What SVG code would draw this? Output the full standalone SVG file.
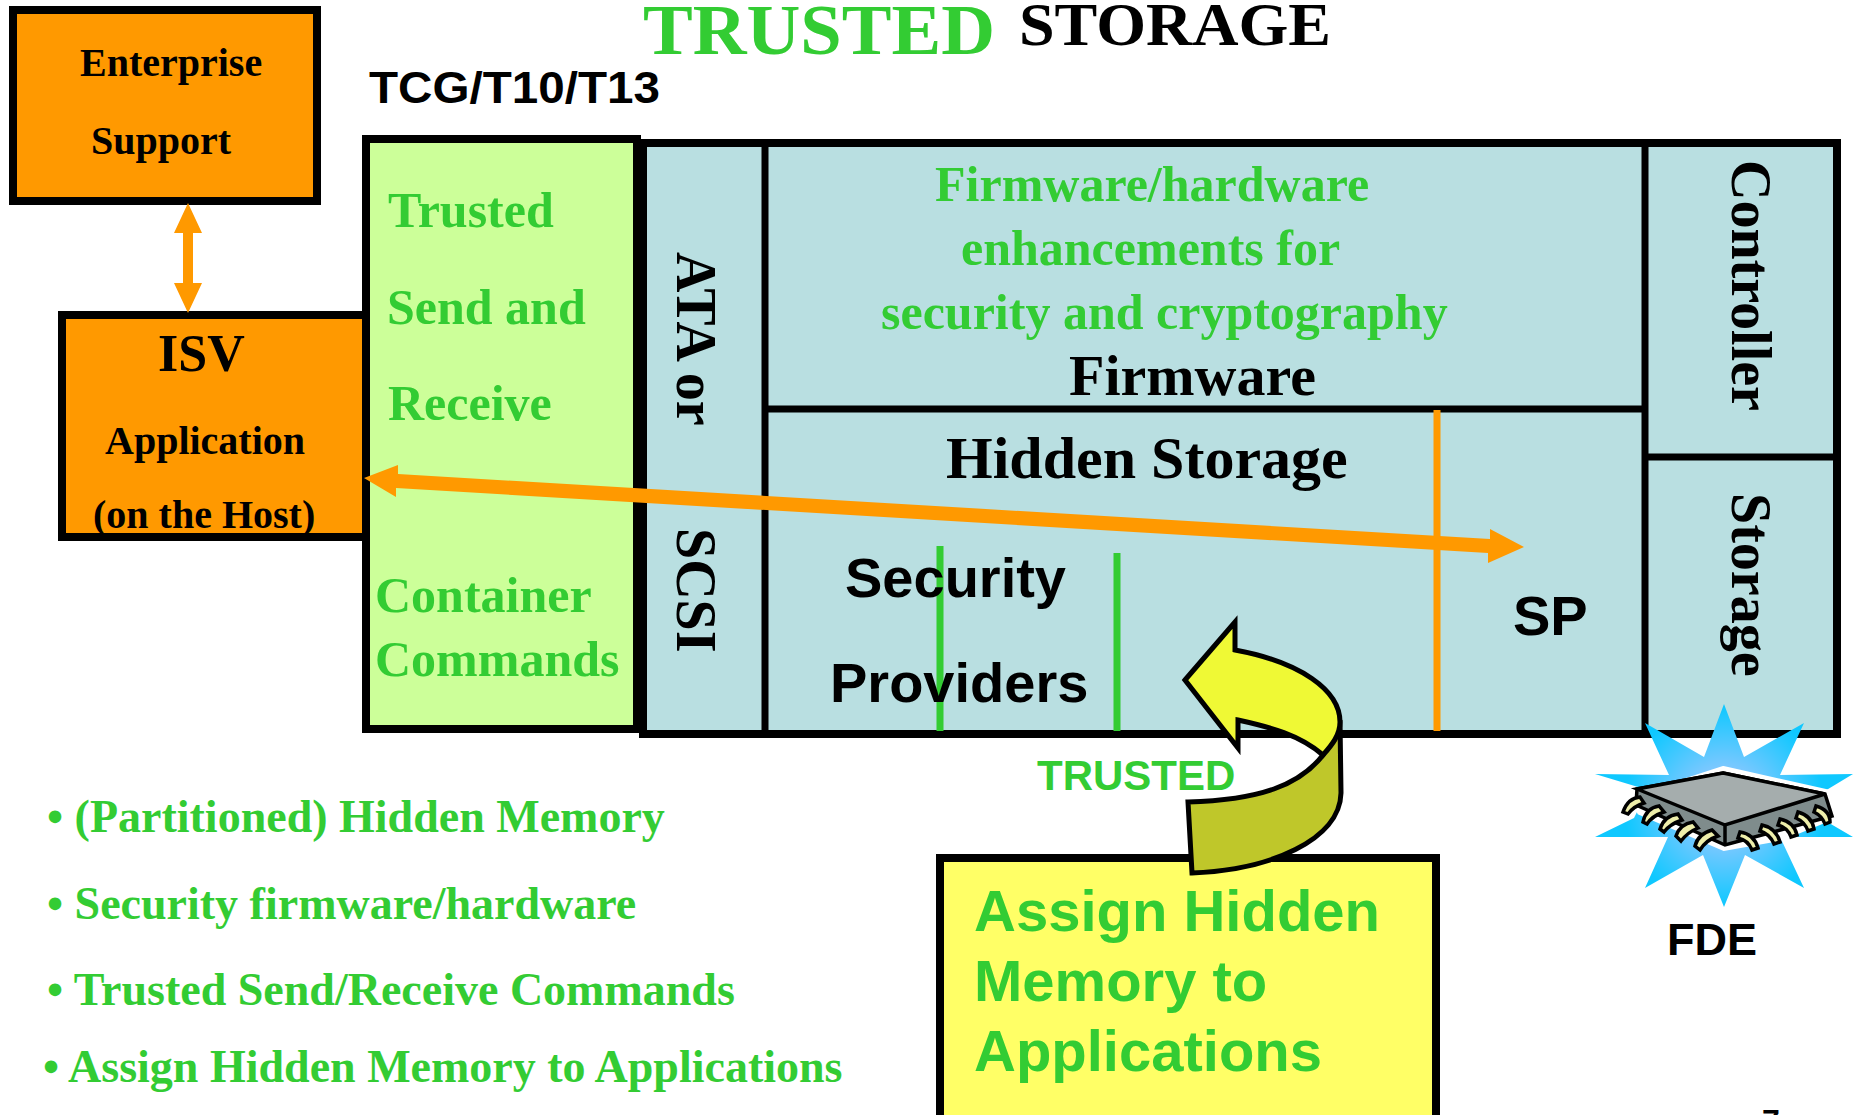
<svg xmlns="http://www.w3.org/2000/svg" width="1854" height="1115" viewBox="0 0 1854 1115">
<style>
text{font-family:"Liberation Serif","Times New Roman",serif;font-weight:bold;fill:#000}
.a{font-family:"Liberation Sans",Arial,sans-serif}
.g{fill:#33cc33}
.box{stroke:#000;stroke-width:8}
.o{fill:#ff9900}.b{fill:#b9dfe1}
.ln{fill:none;stroke-width:7}
</style>
<defs>
<radialGradient id="sg" gradientUnits="userSpaceOnUse" cx="1724" cy="806" r="100"><stop offset="0" stop-color="#c0c8ff"/><stop offset="1" stop-color="#0fc8ff"/></radialGradient>
</defs>
<rect width="1854" height="1115" fill="#fff"/>
<g id="title">
<text x="643" y="54" font-size="72" class="g" textLength="352" lengthAdjust="spacingAndGlyphs">TRUSTED</text>
<text x="1019" y="45" font-size="62" textLength="312" lengthAdjust="spacingAndGlyphs">STORAGE</text>
<text x="369" y="103" font-size="45" class="a" textLength="291" lengthAdjust="spacingAndGlyphs">TCG/T10/T13</text>
</g>
<g id="enterprise">
<rect class="box o" x="13" y="10" width="304" height="191"/>
<text x="80" y="76" font-size="40">Enterprise</text>
<text x="91" y="154" font-size="40">Support</text>
</g>
<g id="isv">
<rect class="box o" x="62" y="315" width="310" height="222"/>
<text x="158" y="371" font-size="52">ISV</text>
<text x="105" y="454" font-size="40">Application</text>
<text x="93" y="528" font-size="40">(on the Host)</text>
</g>
<g id="trusted-send">
<rect class="box" fill="#ccff99" x="366" y="139" width="271" height="590"/>
<text class="g" x="388" y="227" font-size="50">Trusted</text>
<text class="g" x="387" y="324" font-size="50">Send and</text>
<text class="g" x="388" y="420" font-size="50">Receive</text>
<text class="g" x="375" y="612" font-size="50">Container</text>
<text class="g" x="375" y="676" font-size="50">Commands</text>
</g>
<g id="storage-device">
<rect class="box b" x="643" y="143" width="1194" height="591"/>
<path d="M765 143V734M1645 143V734M765 409H1645M1645 457H1837" fill="none" stroke="#000" stroke-width="7"/>
<path d="M940 546V731M1117 553V731" class="ln" stroke="#33cc33"/>
<path d="M1437 410V731" class="ln" stroke="#ff9900"/>
<text transform="translate(677,252) rotate(90)" font-size="56">ATA or</text>
<text transform="translate(677,528) rotate(90)" font-size="56">SCSI</text>
<text transform="translate(1732,160) rotate(90)" font-size="56">Controller</text>
<text transform="translate(1732,493) rotate(90)" font-size="56">Storage</text>
<text class="g" x="935" y="201" font-size="50">Firmware/hardware</text>
<text class="g" x="961" y="265" font-size="50">enhancements for</text>
<text class="g" x="881" y="329" font-size="50">security and cryptography</text>
<text x="1069" y="395" font-size="58">Firmware</text>
<text x="946" y="478" font-size="60">Hidden Storage</text>
<text class="a" x="845" y="597" font-size="56">Security</text>
<text class="a" x="830" y="702" font-size="56">Providers</text>
<text class="a" x="1513" y="635" font-size="56">SP</text>
</g>
<g id="assign">
<rect class="box" fill="#ffff66" x="940" y="858" width="496" height="262"/>
<text class="a g" x="974" y="931" font-size="58">Assign Hidden</text>
<text class="a g" x="974" y="1001" font-size="58">Memory to</text>
<text class="a g" x="974" y="1071" font-size="58">Applications</text>
</g>
<g id="fde">
<path d="M1724 704L1744 757L1804 723L1780 775L1853 774L1800 806L1853 837L1780 837L1804 888L1745 855L1724 907L1703 855L1645 888L1668 837L1595 837L1634 818L1648 790L1595 774L1669 775L1645 723L1704 757Z" fill="url(#sg)"/>
<path d="M1723 769L1826 792L1834 816L1780 838L1724 848L1640 812L1634 798Z" fill="#fff" stroke="#fff" stroke-width="6"/>
<path d="M1723 773L1825 794L1832 816L1725 845L1636 805L1637 789Z" fill="#7f8c8c" stroke="#000" stroke-width="3.5"/>
<path d="M1723 773L1825 794L1725 825L1637 789Z" fill="#a5adad" stroke="#000" stroke-width="3.5"/>
<path d="M1725 825V845" stroke="#000" stroke-width="3.5"/>
<g fill="#eeeeaa" stroke="#000" stroke-width="3.5">
<path d="M1623 812Q1628 798 1640 797L1644 803Q1634 806 1628 814Z"/>
<path d="M1643 822Q1646 808 1659 806L1664 812Q1652 816 1647 824Z"/>
<path d="M1660 829Q1664 816 1678 814L1682 820Q1670 824 1664 832Z"/>
<path d="M1676 836Q1680 824 1693 822L1698 828Q1688 832 1681 841Z"/>
<path d="M1695 846Q1698 834 1712 830L1718 836Q1706 840 1700 850Z"/>
<path d="M1740 832Q1754 834 1758 848L1752 850Q1748 840 1738 838Z"/>
<path d="M1762 825Q1776 828 1780 842L1774 844Q1770 834 1760 831Z"/>
<path d="M1780 819Q1794 822 1797 835L1791 837Q1788 828 1778 825Z"/>
<path d="M1798 812Q1812 816 1814 829L1808 831Q1805 822 1796 818Z"/>
<path d="M1816 806Q1830 810 1830 822L1825 824Q1822 816 1814 812Z"/>
</g>
<text class="a" x="1667" y="955" font-size="45">FDE</text>
</g>
<g id="trusted-arrow">
<path d="M1188 802C1260 800 1300 785 1323 755L1340 720L1341 793C1340 840 1270 870 1192 873Z" fill="#bfc72a" stroke="#000" stroke-width="5" stroke-linejoin="miter"/>
<path d="M1185 680L1235 622V650C1300 662 1340 690 1340 722C1340 735 1332 745 1323 755C1300 735 1270 727 1238 720V748Z" fill="#eff935" stroke="#000" stroke-width="5"/>
<text class="a g" x="1037" y="790" font-size="42">TRUSTED</text>
</g>
<g id="bullets">
<text class="g" x="47" y="832" font-size="46">• (Partitioned) Hidden Memory</text>
<text class="g" x="47" y="919" font-size="46">• Security firmware/hardware</text>
<text class="g" x="47" y="1005" font-size="46">• Trusted Send/Receive Commands</text>
<text class="g" x="43" y="1082" font-size="46">• Assign Hidden Memory to Applications</text>
</g>
<text class="a" x="1762" y="1132" font-size="32" font-weight="normal">7</text>
<g id="connectors">
<path d="M188 203L202 233H193V283H202L188 313L174 283H183V233H174Z" fill="#ff9900"/>
<path d="M364 478L398 465V474L1490 539V529L1524 547L1488 563V553L396 488V497Z" fill="#ff9900"/>
</g>
</svg>
